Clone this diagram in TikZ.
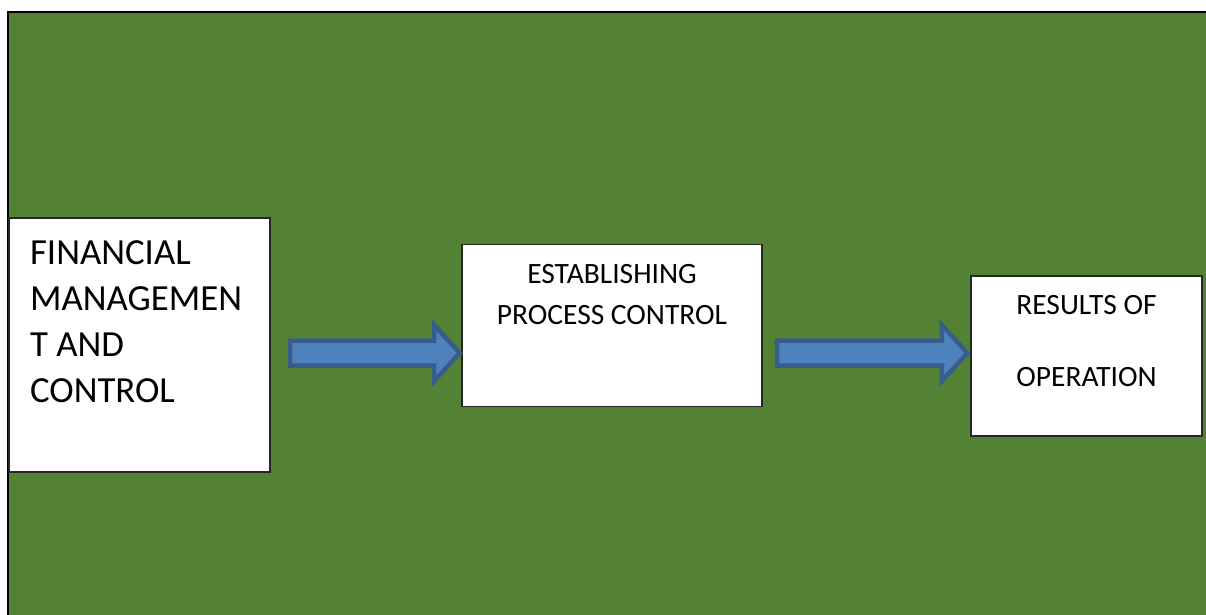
\documentclass[tikz,border=0pt]{standalone}
\usepackage{fontspec}
\setmainfont{Carlito}
\usetikzlibrary{positioning, calc}
\definecolor{bggreen}{RGB}{84, 130, 53}
\definecolor{arrowblue}{RGB}{79, 129, 189}
\definecolor{arrowedge}{RGB}{56, 93, 138}

\begin{document}
\begin{tikzpicture}[
    x=1pt, y=-1pt,
    box/.style={rectangle, draw=black!85, line width=1.2pt, fill=white, inner sep=0pt},
    boxtext/.style={inner sep=0pt, align=center, anchor=north, font=\fontsize{29.5}{41.5}\selectfont},
    bigarrow/.style={draw=arrowedge, fill=arrowblue, line width=4.5pt, line join=miter}
]
    \useasboundingbox (0,0) rectangle (1206,614);
    \clip (0,0) rectangle (1206,614);
    \fill[bggreen] (8,12) rectangle (1212,620);
    \draw[line width=2.2pt] (8,620) -- (8,12) -- (1212,12);

    \node[box, minimum width=261pt, minimum height=254pt] (fin) at (139.5,345) {};
    \node[box, minimum width=300pt, minimum height=162.5pt] (est) at (612,325.5) {};
    \node[box, minimum width=231pt, minimum height=160pt] (res) at (1086.5,356) {};

    \node[boxtext, align=left, anchor=north west, font=\fontsize{36.8}{46}\selectfont]
        (finlbl) at ($(fin.north west)+(21.5,23.3)$) {FINANCIAL\\MANAGEMEN\\T AND\\CONTROL};
    \node[boxtext] (estlbl) at ($(est.north)+(0,20.2)$) {ESTABLISHING\\PROCESS CONTROL};
    \node[boxtext, font=\fontsize{29.5}{72}\selectfont] (reslbl) at ($(res.north)+(0,19.5)$) {RESULTS OF\\OPERATION};

    % block arrows between the boxes
    \coordinate (axis) at (0,353);
    \foreach \a/\b/\g/\t in {fin/est/19.5pt/1.7pt, est/res/14.5pt/3pt}
        \draw[bigarrow] let \p1=(\a.east), \p2=(\b.west), \p3=(axis) in
            (\x1+\g, \y3+12.5pt) -- (\x2-\t-25.5pt, \y3+12.5pt) -- (\x2-\t-25.5pt, \y3+28pt)
            -- (\x2-\t, \y3) -- (\x2-\t-25.5pt, \y3-28pt) -- (\x2-\t-25.5pt, \y3-12.5pt)
            -- (\x1+\g, \y3-12.5pt) -- cycle;
\end{tikzpicture}
\end{document}
